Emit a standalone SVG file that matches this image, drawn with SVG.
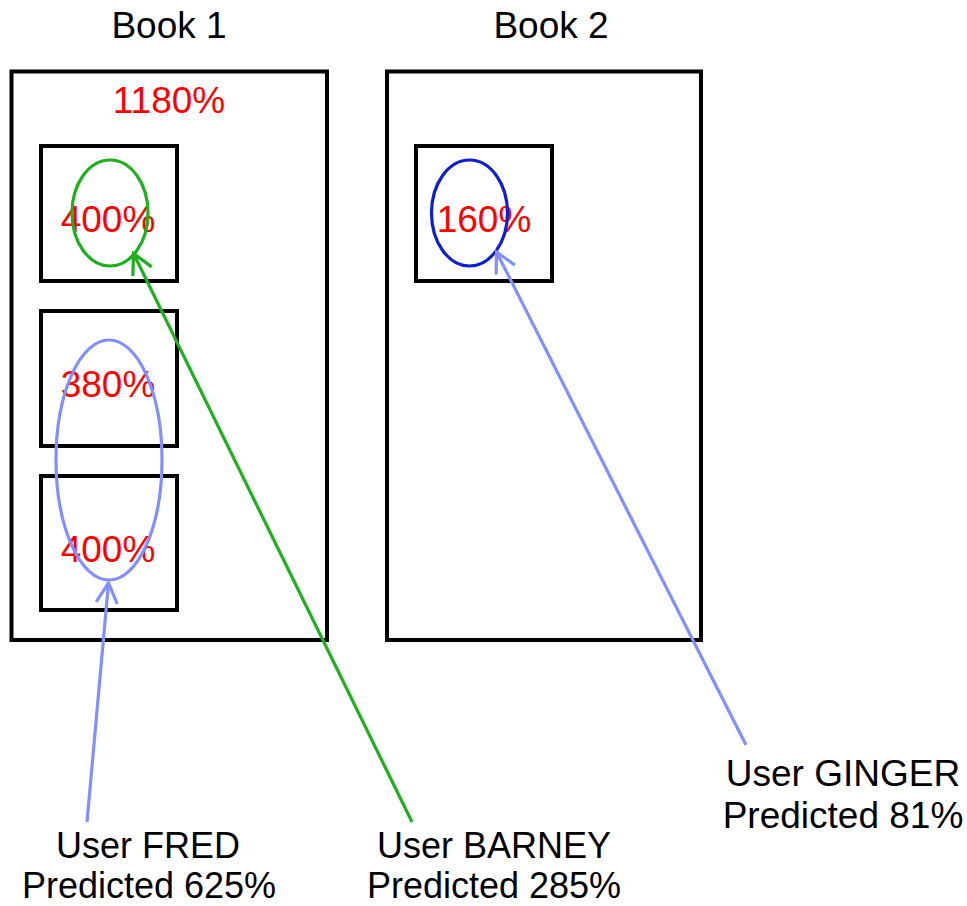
<svg xmlns="http://www.w3.org/2000/svg" width="967" height="906" viewBox="0 0 967 906">
<style>
.box{fill:none;stroke:#000;stroke-width:4}
.t{font-family:"Liberation Sans",Arial,sans-serif;font-size:37px;text-anchor:middle;fill:#000}
.b{font-size:36px}
.p{font-family:"Liberation Sans",Arial,sans-serif;font-size:37px;text-anchor:middle;fill:#ff0000}
.g{fill:none;stroke:#1eb01e;stroke-width:3.2}
.lb{fill:none;stroke:#8090ff;stroke-width:3.2}
.db{fill:none;stroke:#0f1fcc;stroke-width:3.2}
</style>
<defs>
<marker id="ag" markerUnits="userSpaceOnUse" markerWidth="40" markerHeight="40" viewBox="-30 -20 40 40" refX="0" refY="0" orient="auto">
<path d="M-20,-10.5 L0,0 L-20,10.5" fill="none" stroke="#1eb01e" stroke-width="3.2"/>
</marker>
<marker id="ab" markerUnits="userSpaceOnUse" markerWidth="40" markerHeight="40" viewBox="-30 -20 40 40" refX="0" refY="0" orient="auto">
<path d="M-20,-10.5 L0,0 L-20,10.5" fill="none" stroke="#8090ff" stroke-width="3.2"/>
</marker>
</defs>
<rect width="967" height="906" fill="#fff"/>
<g id="book1">
<text class="t" x="169" y="38">Book 1</text>
<rect class="box" x="11.5" y="71.5" width="315.5" height="568.5"/>
<text class="p" x="169" y="113">1180%</text>
</g>
<g id="book2">
<text class="t" x="551" y="38">Book 2</text>
<rect class="box" x="387" y="71.5" width="314" height="568.5"/>
</g>
<g id="b1p1">
<rect class="box" x="41" y="146" width="136" height="135"/>
<text class="p" x="108" y="232">400%</text>
</g>
<g id="b1p2">
<rect class="box" x="41" y="311" width="136" height="135"/>
<text class="p" x="108" y="397">380%</text>
</g>
<g id="b1p3">
<rect class="box" x="41" y="476" width="136" height="134"/>
<text class="p" x="108" y="562">400%</text>
</g>
<g id="b2p1">
<rect class="box" x="416" y="146" width="136" height="135"/>
<text class="p" x="484" y="232">160%</text>
</g>
<g id="sel-barney"><ellipse class="g" cx="110" cy="213" rx="38" ry="53"/></g>
<g id="sel-fred"><ellipse class="lb" cx="109" cy="460" rx="53" ry="120"/></g>
<g id="sel-ginger"><ellipse class="db" cx="469.5" cy="213" rx="38" ry="53"/></g>
<g id="fred">
<text class="t b" x="148" y="857.5">User FRED</text>
<text class="t b" x="149" y="898">Predicted 625%</text>
</g>
<g id="barney">
<text class="t b" x="494" y="857.5">User BARNEY</text>
<text class="t b" x="494" y="898">Predicted 285%</text>
</g>
<g id="ginger">
<text class="t" x="843" y="786">User GINGER</text>
<text class="t" x="843" y="828">Predicted 81%</text>
</g>
<g id="connectors">
<line class="lb" x1="87" y1="822" x2="108.5" y2="583" marker-end="url(#ab)"/>
<line class="g" x1="412" y1="822" x2="133.5" y2="253.5" marker-end="url(#ag)"/>
<line class="lb" x1="746" y1="745" x2="496.5" y2="252" marker-end="url(#ab)"/>
</g>
</svg>
